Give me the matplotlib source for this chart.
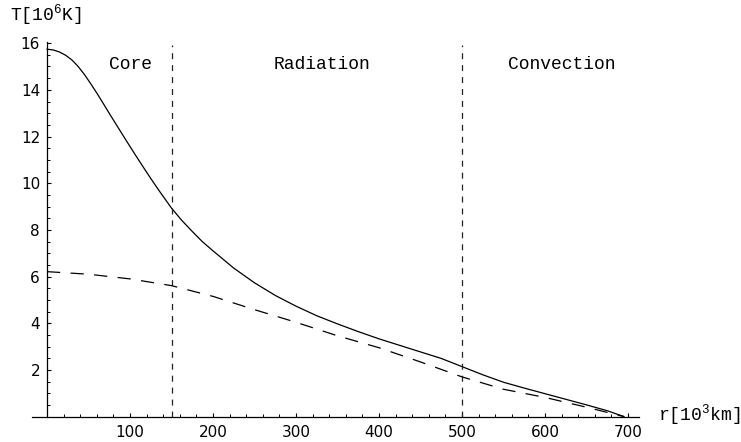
import matplotlib
matplotlib.use("Agg")
import matplotlib.pyplot as plt
from matplotlib.ticker import MultipleLocator

plt.rcParams['mathtext.fontset'] = 'custom'
plt.rcParams['mathtext.rm'] = 'Liberation Mono'
plt.rcParams['lines.scale_dashes'] = False

# radius in 10^3 km, temperature in 10^6 K
r_model = [0, 7.5, 15, 22.5, 30, 37.5, 45, 52.5, 60, 67.5, 75, 85, 95, 105,
           115, 125, 135, 150, 162, 175, 187, 200, 225, 250, 275, 300, 325,
           350, 375, 400, 425, 450, 475, 500, 525, 550, 575, 600, 625, 650,
           675, 695]
T_model = [15.74, 15.71, 15.62, 15.48, 15.28, 15.0, 14.66, 14.27, 13.86, 13.43,
           12.99, 12.42, 11.85, 11.29, 10.74, 10.2, 9.68, 8.93, 8.42, 7.93,
           7.5, 7.1, 6.36, 5.73, 5.19, 4.73, 4.32, 3.97, 3.64, 3.33, 3.05,
           2.77, 2.49, 2.14, 1.79, 1.47, 1.22, 0.98, 0.74, 0.5, 0.25, 0.0]

r_simple = [0, 50, 100, 150, 200, 250, 300, 350, 400, 450, 500, 550, 600, 650, 695]
T_simple = [6.21, 6.1, 5.9, 5.61, 5.15, 4.58, 4.04, 3.46, 2.95, 2.34, 1.7,
            1.17, 0.82, 0.4, 0.0]

boundaries = [150, 500]
regions = ["Core", "Radiation", "Convection"]
region_r = [100, 331, 620]
region_T = 15.07

mono = "Liberation Mono"

fig = plt.figure(figsize=(7.41, 4.42), dpi=100)
ax = fig.add_axes([0.0433, 0.0575, 0.8189, 0.8475])

ax.plot(r_model, T_model, color="black", lw=0.9)
ax.plot(r_simple, T_simple, color="black", lw=0.9, dashes=(9.5, 7.5))
for b in boundaries:
    ax.plot([b, b], [0, 15.9], color="#222222", lw=0.9, dashes=(4.3, 4.3))

for name, x in zip(regions, region_r):
    ax.text(x, region_T, name, family=mono, fontsize=13, ha="center", va="center")

ax.set_xlim(-18, 713)
ax.set_ylim(0, 16.05)

ax.spines['top'].set_visible(False)
ax.spines['right'].set_visible(False)
ax.spines['left'].set_position(('data', 0))
ax.spines['bottom'].set_position(('data', 0))
ax.spines['left'].set_bounds(0, 16.05)
for s in ['left', 'bottom']:
    ax.spines[s].set_linewidth(0.9)

ax.set_xticks([100, 200, 300, 400, 500, 600, 700])
ax.set_yticks([2, 4, 6, 8, 10, 12, 14, 16])
ax.xaxis.set_minor_locator(MultipleLocator(20))
ax.yaxis.set_minor_locator(MultipleLocator(0.5))
ax.tick_params(which='major', direction='in', length=3, width=0.8, labelsize=11)
ax.tick_params(which='minor', direction='in', length=2, width=0.7)
ax.tick_params(axis='x', pad=6)
ax.tick_params(axis='y', pad=5)
ax.patch.set_visible(False)

fig.text(10 / 741, 1 - 15 / 442, r'T[10$^{\mathrm{6}}$K]', family=mono,
         fontsize=13, ha="left", va="center")
fig.text(658 / 741, 1 - 415 / 442, r'r[10$^{\mathrm{3}}$km]', family=mono,
         fontsize=13, ha="left", va="center")

fig.savefig("out.png", dpi=100)
